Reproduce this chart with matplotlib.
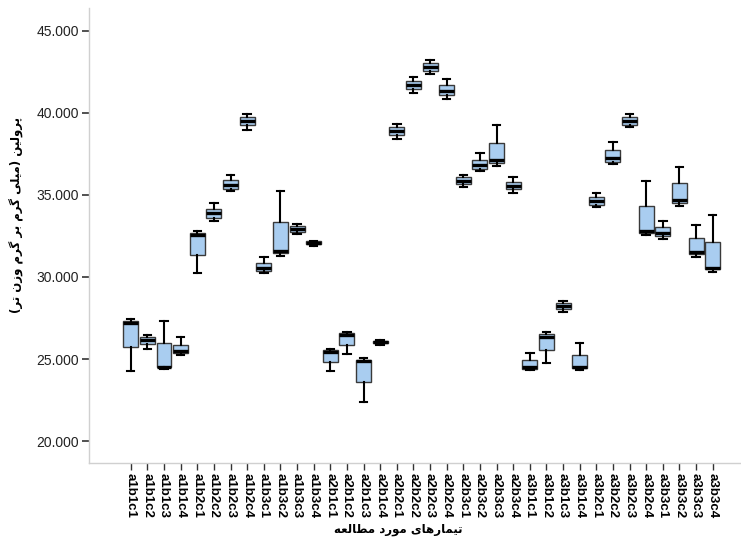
import matplotlib
matplotlib.use("Agg")
import matplotlib.pyplot as plt
from matplotlib.ticker import FormatStrFormatter

plt.rcParams["font.family"] = ["Liberation Sans", "DejaVu Sans"]

# treatments
labels = ["a1b1c1", "a1b1c2", "a1b1c3", "a1b1c4", "a1b2c1", "a1b2c2", "a1b2c3", "a1b2c4",
          "a1b3c1", "a1b3c2", "a1b3c3", "a1b3c4", "a2b1c1", "a2b1c2", "a2b1c3", "a2b1c4",
          "a2b2c1", "a2b2c2", "a2b2c3", "a2b2c4", "a2b3c1", "a2b3c2", "a2b3c3", "a2b3c4",
          "a3b1c1", "a3b1c2", "a3b1c3", "a3b1c4", "a3b2c1", "a3b2c2", "a3b2c3", "a3b2c4",
          "a3b3c1", "a3b3c2", "a3b3c3", "a3b3c4"]

# box statistics
whislo = [24.25, 25.63, 24.37, 25.22, 30.22, 33.43, 35.23, 38.96, 30.22, 31.28, 32.62, 31.89,
          24.25, 25.30, 22.38, 25.87, 38.43, 41.20, 42.38, 40.87, 35.47, 36.45, 36.77, 35.14,
          24.33, 24.74, 27.87, 24.35, 34.25, 36.89, 39.13, 32.54, 32.34, 34.33, 31.24, 30.30]
q1 = [25.75, 25.91, 24.49, 25.35, 31.36, 33.60, 35.38, 39.25, 30.38, 31.45, 32.74, 32.01,
      24.82, 25.83, 23.60, 25.95, 38.64, 41.44, 42.58, 41.08, 35.67, 36.60, 36.97, 35.35,
      24.41, 25.55, 28.03, 24.43, 34.41, 37.03, 39.29, 32.66, 32.50, 34.49, 31.40, 30.47]
med = [27.21, 26.16, 24.53, 25.47, 32.54, 33.88, 35.63, 39.53, 30.55, 31.57, 32.91, 32.09,
       25.43, 26.44, 24.86, 26.04, 38.88, 41.69, 42.82, 41.36, 35.87, 36.81, 37.13, 35.55,
       24.53, 26.36, 28.23, 24.53, 34.62, 37.23, 39.53, 32.82, 32.70, 34.70, 31.52, 30.55]
q3 = [27.34, 26.32, 25.95, 25.87, 32.70, 34.16, 35.91, 39.74, 30.87, 33.35, 33.11, 32.17,
      25.55, 26.57, 24.94, 26.12, 39.13, 41.93, 43.03, 41.69, 36.08, 37.13, 38.19, 35.79,
      24.94, 26.52, 28.43, 25.22, 34.86, 37.72, 39.77, 34.33, 33.03, 35.71, 32.38, 32.13]
whishi = [27.46, 26.44, 27.34, 26.32, 32.82, 34.49, 36.24, 39.94, 31.24, 35.23, 33.23, 32.21,
          25.63, 26.65, 25.06, 26.16, 39.33, 42.21, 43.23, 42.05, 36.24, 37.54, 39.25, 36.12,
          25.35, 26.65, 28.52, 25.95, 35.10, 38.23, 39.94, 35.87, 33.40, 36.73, 33.15, 33.76]

ylabel_txt = "پرولین (میلی گرم بر گرم وزن تر)"
xlabel_txt = "تیمارهای مورد مطالعه"

# matplotlib has no arabic shaping, so pick presentation forms by hand
# (isolated, final, initial, medial)
FORMS = {
    "ا": ("\ufe8d", "\ufe8e", None, None),
    "ب": ("\ufe8f", "\ufe90", "\ufe91", "\ufe92"),
    "پ": ("\ufb56", "\ufb57", "\ufb58", "\ufb59"),
    "ت": ("\ufe95", "\ufe96", "\ufe97", "\ufe98"),
    "د": ("\ufea9", "\ufeaa", None, None),
    "ر": ("\ufead", "\ufeae", None, None),
    "ز": ("\ufeaf", "\ufeb0", None, None),
    "ط": ("\ufec1", "\ufec2", "\ufec3", "\ufec4"),
    "ع": ("\ufec9", "\ufeca", "\ufecb", "\ufecc"),
    "گ": ("\ufb92", "\ufb93", "\ufb94", "\ufb95"),
    "ل": ("\ufedd", "\ufede", "\ufedf", "\ufee0"),
    "م": ("\ufee1", "\ufee2", "\ufee3", "\ufee4"),
    "ن": ("\ufee5", "\ufee6", "\ufee7", "\ufee8"),
    "ه": ("\ufee9", "\ufeea", "\ufeeb", "\ufeec"),
    "و": ("\ufeed", "\ufeee", None, None),
    "ی": ("\ufbfc", "\ufbfd", "\ufbfe", "\ufbff"),
}


def shape(text):
    out = []
    for i, ch in enumerate(text):
        if ch not in FORMS:
            out.append(ch)
            continue
        prev = text[i - 1] if i > 0 else ""
        nxt = text[i + 1] if i + 1 < len(text) else ""
        jp = prev in FORMS and FORMS[prev][2] is not None
        jn = FORMS[ch][2] is not None and nxt in FORMS
        iso, fin, ini, mid = FORMS[ch]
        if jp and jn:
            out.append(mid)
        elif jp:
            out.append(fin)
        elif jn:
            out.append(ini)
        else:
            out.append(iso)
    s = "".join(out)[::-1]
    return s.translate(str.maketrans("()", ")("))


stats = []
for i in range(len(labels)):
    stats.append(dict(label=labels[i], whislo=whislo[i], q1=q1[i], med=med[i],
                      q3=q3[i], whishi=whishi[i], fliers=[]))

fig = plt.figure(figsize=(7.41, 5.38), dpi=100)
ax = fig.add_axes([89 / 741, 75 / 538, 652 / 741, 455 / 538])

ax.bxp(stats, positions=range(len(labels)), widths=0.9, capwidths=0.45,
       patch_artist=True, showfliers=False,
       boxprops=dict(facecolor="#a9cdf0", edgecolor="#3a3a3a", linewidth=1.0),
       medianprops=dict(color="black", linewidth=2.4, solid_capstyle="butt"),
       whiskerprops=dict(color="black", linewidth=1.5),
       capprops=dict(color="black", linewidth=1.5))

ax.set_xlim(-2.51, 36.7)
ax.set_ylim(18.66, 46.4)
ax.set_yticks([20, 25, 30, 35, 40, 45])
ax.yaxis.set_major_formatter(FormatStrFormatter("%.3f"))

for s in ["top", "right"]:
    ax.spines[s].set_visible(False)
for s in ["left", "bottom"]:
    ax.spines[s].set_color("#d0d0d0")
    ax.spines[s].set_linewidth(1.0)

ax.tick_params(axis="y", length=5, width=1.2, color="#333333", pad=2,
               labelsize=10, labelcolor="#222222")
ax.tick_params(axis="x", length=5, width=1.0, color="#333333", pad=2)
ax.set_xticks(range(len(labels)))
ax.set_xticklabels(labels, rotation=270, ha="center", va="top",
                   fontweight="bold", fontsize=9.5)

ax.set_ylabel(shape(ylabel_txt), fontfamily="DejaVu Sans", fontweight="bold",
              fontsize=8.5, va="center", ha="center")
ax.yaxis.set_label_coords(-0.11, 0.545)
ax.set_xlabel(shape(xlabel_txt), fontfamily="DejaVu Sans", fontweight="bold",
              fontsize=8.5, va="center", ha="center")
ax.xaxis.set_label_coords(0.475, -0.147)

plt.savefig("out.png", dpi=100)
